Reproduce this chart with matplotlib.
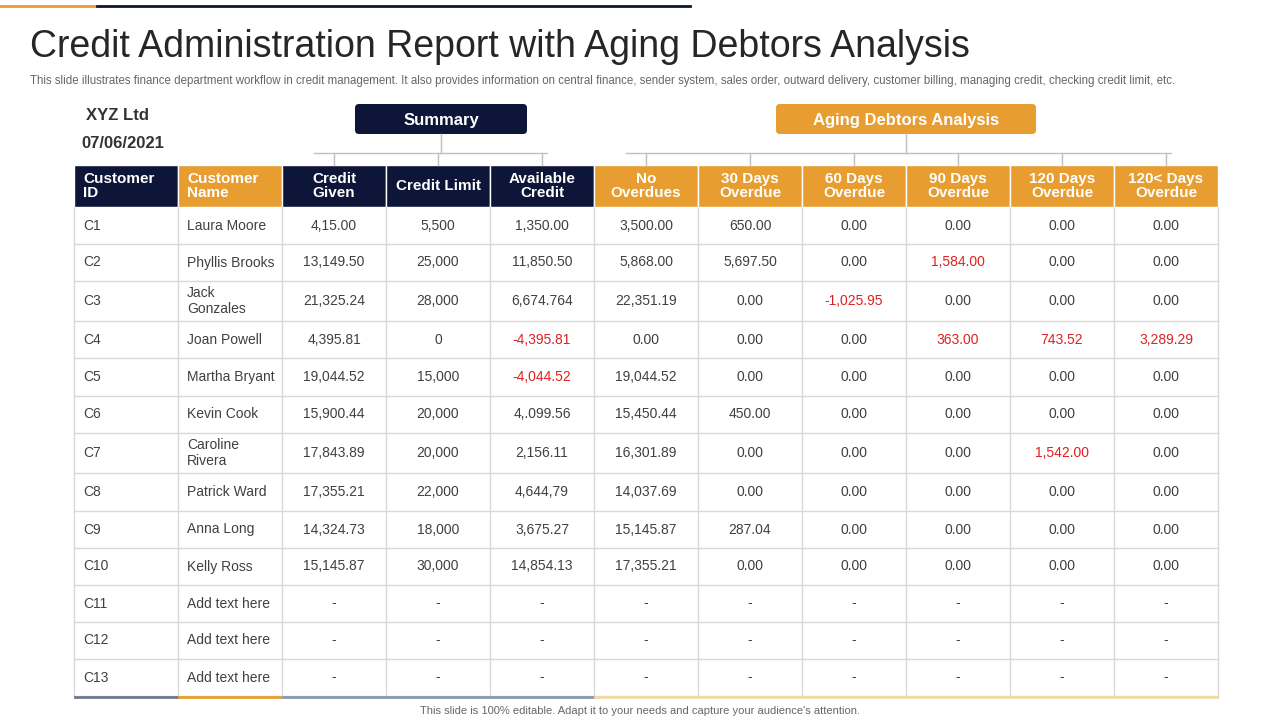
import matplotlib
matplotlib.use("Agg")
import matplotlib.pyplot as plt
from matplotlib.patches import Rectangle, FancyBboxPatch

plt.rcParams["font.family"] = "Liberation Sans"

headers = ["Customer\nID", "Customer\nName", "Credit\nGiven", "Credit Limit", "Available\nCredit",
           "No\nOverdues", "30 Days\nOverdue", "60 Days\nOverdue", "90 Days\nOverdue",
           "120 Days\nOverdue", "120< Days\nOverdue"]
ids = ["C1","C2","C3","C4","C5","C6","C7","C8","C9","C10","C11","C12","C13"]
names = ["Laura Moore","Phyllis Brooks","Jack\nGonzales","Joan Powell","Martha Bryant","Kevin Cook",
         "Caroline\nRivera","Patrick Ward","Anna Long","Kelly Ross","Add text here","Add text here","Add text here"]
credit_given = ["4,15.00","13,149.50","21,325.24","4,395.81","19,044.52","15,900.44","17,843.89","17,355.21","14,324.73","15,145.87","-","-","-"]
credit_limit = ["5,500","25,000","28,000","0","15,000","20,000","20,000","22,000","18,000","30,000","-","-","-"]
available = ["1,350.00","11,850.50","6,674.764","-4,395.81","-4,044.52","4,.099.56","2,156.11","4,644,79","3,675.27","14,854.13","-","-","-"]
no_over = ["3,500.00","5,868.00","22,351.19","0.00","19,044.52","15,450.44","16,301.89","14,037.69","15,145.87","17,355.21","-","-","-"]
d30 = ["650.00","5,697.50","0.00","0.00","0.00","450.00","0.00","0.00","287.04","0.00","-","-","-"]
d60 = ["0.00","0.00","-1,025.95","0.00","0.00","0.00","0.00","0.00","0.00","0.00","-","-","-"]
d90 = ["0.00","1,584.00","0.00","363.00","0.00","0.00","0.00","0.00","0.00","0.00","-","-","-"]
d120 = ["0.00","0.00","0.00","743.52","0.00","0.00","1,542.00","0.00","0.00","0.00","-","-","-"]
d120p = ["0.00","0.00","0.00","3,289.29","0.00","0.00","0.00","0.00","0.00","0.00","-","-","-"]
red_cells = {(4,3),(4,4),(7,2),(8,1),(8,3),(9,3),(9,6),(10,3)}  # (col,row)

cols = [ids, names, credit_given, credit_limit, available, no_over, d30, d60, d90, d120, d120p]
NAVY = "#0d1538"; ORANGE = "#e79d2f"; RED = "#e02020"; GRID = "#d9d9d9"; TXT = "#404040"

fig = plt.figure(figsize=(12.8, 7.2), dpi=100)
ax = fig.add_axes([0, 0, 1, 1])
ax.set_xlim(0, 1280); ax.set_ylim(720, 0); ax.axis("off")

ax.plot([0, 95], [6, 6], color=ORANGE, lw=2)
ax.plot([97, 690], [6, 6], color=NAVY, lw=2)

ax.text(30, 47, "Credit Administration Report with Aging Debtors Analysis", fontsize=27,
        color="#262626", va="center", ha="left")
ax.text(30, 81, "This slide illustrates finance department workflow in credit management. It also provides information on central finance, sender system, sales order, outward delivery, customer billing, managing credit, checking credit limit, etc.",
        fontsize=8.3, color="#666666", va="center", ha="left")
ax.text(118, 115, "XYZ Ltd", fontsize=12, fontweight="bold", color="#333333", ha="center", va="center")
ax.text(123, 144, "07/06/2021", fontsize=12, fontweight="bold", color="#333333", ha="center", va="center")

x0, cw = 74, 104
xs = [x0 + i * cw for i in range(12)]
hy0, hy1 = 165, 207
row_h = [37, 37, 40, 37, 38, 37, 40, 38, 37, 37, 37, 37, 37]
ys = [hy1]
for h in row_h:
    ys.append(ys[-1] + h)

for label, c0, c1, bx, bw, color in [("Summary", 2, 4, 355, 172, NAVY),
                                      ("Aging Debtors Analysis", 5, 10, 776, 260, ORANGE)]:
    ax.add_patch(FancyBboxPatch((bx, 104), bw, 30, boxstyle="round,pad=0,rounding_size=4",
                                fc=color, ec="none"))
    ax.text(bx + bw / 2, 120, label, color="white", fontsize=12, fontweight="bold", ha="center", va="center")
    cx = bx + bw / 2
    ax.plot([cx, cx], [134, 153], color="#bfbfbf", lw=1)
    centers = [(xs[c] + xs[c + 1]) / 2 for c in range(c0, c1 + 1)]
    ax.plot([centers[0] - 20, centers[-1] + 5], [153, 153], color="#bfbfbf", lw=1)
    for c in centers:
        ax.plot([c, c], [153, hy0], color="#bfbfbf", lw=1)

for i, h in enumerate(headers):
    color = ORANGE if i in (1,) or i >= 5 else NAVY
    ax.add_patch(Rectangle((xs[i], hy0), cw, hy1 - hy0, fc=color, ec="white", lw=1))
    if i < 2:
        ax.text(xs[i] + 9, (hy0 + hy1) / 2, h, color="white", fontsize=11, fontweight="bold",
                ha="left", va="center", linespacing=1.0)
    else:
        ax.text(xs[i] + cw / 2, (hy0 + hy1) / 2, h, color="white", fontsize=11, fontweight="bold",
                ha="center", va="center", linespacing=1.0, multialignment="center")

for y in ys[1:]:
    ax.plot([xs[0], xs[-1]], [y, y], color=GRID, lw=1)
for x in xs:
    ax.plot([x, x], [hy1, ys[-1]], color=GRID, lw=1)

for c, col in enumerate(cols):
    for r, val in enumerate(col):
        yc = (ys[r] + ys[r + 1]) / 2
        color = RED if (c, r) in red_cells else TXT
        if c < 2:
            ax.text(xs[c] + 9, yc, val, fontsize=10, color=color, ha="left", va="center", linespacing=1.25)
        else:
            ax.text(xs[c] + cw / 2, yc, val, fontsize=10, color=color, ha="center", va="center")

bottom_colors = ["#6b7a8f", ORANGE, "#8a99b0", "#8a99b0", "#8a99b0"] + ["#f2d9a6"] * 6
for c, bc in enumerate(bottom_colors):
    ax.plot([xs[c] + 1, xs[c + 1] - 1], [ys[-1] + 1, ys[-1] + 1], color=bc, lw=2)

ax.text(640, 711, "This slide is 100% editable. Adapt it to your needs and capture your audience's attention.",
        fontsize=8, color="#666666", ha="center", va="center")

fig.savefig("out.png", dpi=100)
